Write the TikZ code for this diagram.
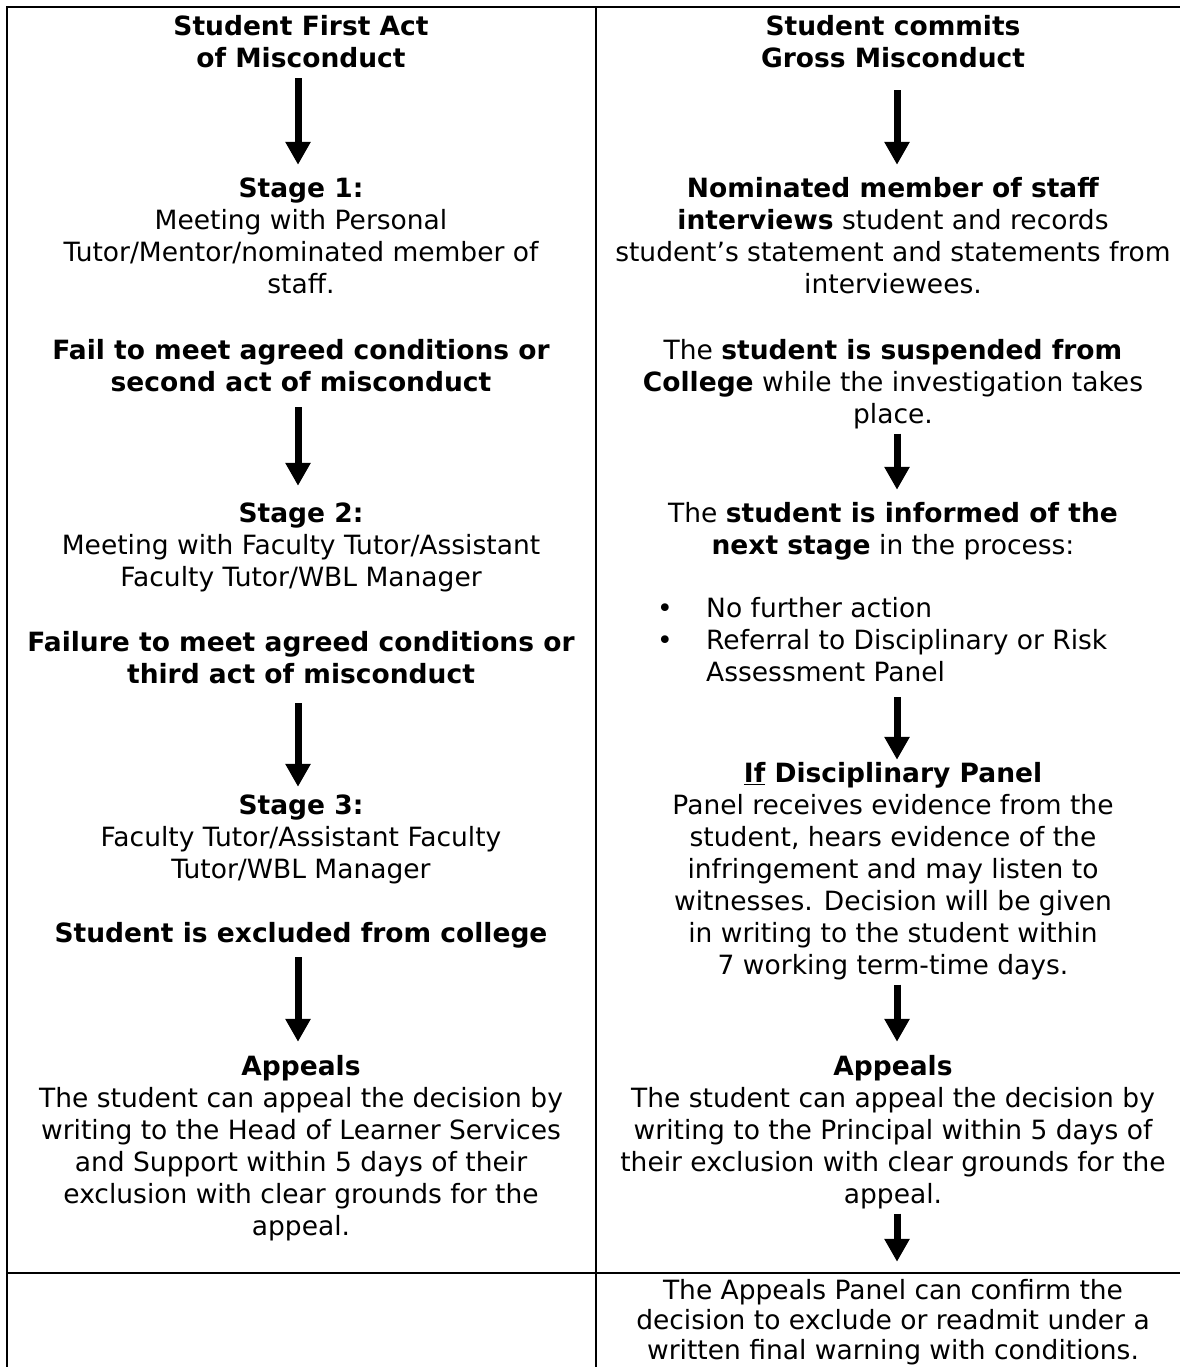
\documentclass[tikz,border=0pt]{standalone}
\usepackage{fontspec}
\setmainfont{DejaVu Sans}
\usetikzlibrary{arrows.meta}
\tikzset{
  txt/.style={font=\fontsize{26.5}{32}\selectfont, align=center, inner sep=0pt},
  bigarrow/.style={line width=7pt, -{Triangle[length=23pt,width=24pt]}},
  tablerule/.style={line width=2.2pt, line cap=rect}
}
\begin{document}
\begin{tikzpicture}[x=1pt,y=-1pt]
\useasboundingbox (0,0) rectangle (1179,1367);
% table frame
\draw[tablerule, line join=miter] (7,1380) -- (7,7) -- (1190,7);
\draw[tablerule] (596,7) -- (596,1380);
\draw[tablerule] (7,1273) -- (1190,1273);
\coordinate (ax) at (298,0);
\coordinate (bx) at (897,0);
% left column
\node[txt] (L0) at (301,45.3) {\strut\textbf{Student First Act}\\\textbf{of Misconduct}\strut};
\node[txt] (L1) at (301,239.3) {\strut\textbf{Stage 1:}\\Meeting with Personal\\Tutor/Mentor/nominated member of\\staff.\strut};
\node[txt] (L2) at (301,369.3) {\strut\textbf{Fail to meet agreed conditions or}\\\textbf{second act of misconduct}\strut};
\node[txt] (L3) at (301,548.3) {\strut\textbf{Stage 2:}\\Meeting with Faculty Tutor/Assistant\\Faculty Tutor/WBL Manager\strut};
\node[txt] (L4) at (301,661.3) {\strut\textbf{Failure to meet agreed conditions or}\\\textbf{third act of misconduct}\strut};
\node[txt] (L5) at (301,840.3) {\strut\textbf{Stage 3:}\\Faculty Tutor/Assistant Faculty\\Tutor/WBL Manager\strut};
\node[txt] (L6) at (301,936.3) {\strut\textbf{Student is excluded from college}\strut};
\node[txt] (L7) at (301,1149.3) {\strut\textbf{Appeals}\\The student can appeal the decision by\\writing to the Head of Learner Services\\and Support within 5 days of their\\exclusion with clear grounds for the\\appeal.\strut};
% right column
\node[txt] (R0) at (893,45.3) {\strut\textbf{Student commits}\\\textbf{Gross Misconduct}\strut};
\node[txt] (R1) at (893,239.3) {\strut\textbf{Nominated member of staff}\\\textbf{interviews} student and records\\student’s statement and statements from\\interviewees.\strut};
\node[txt] (R2) at (893,385.3) {\strut The \textbf{student is suspended from}\\\textbf{College} while the investigation takes\\place.\strut};
\node[txt] (R3) at (893,532.3) {\strut The \textbf{student is informed of the}\\\textbf{next stage} in the process:\strut};
\node[txt, anchor=west, align=left] (R4) at (657,643.3) {\strut\makebox[49pt][l]{•}No further action\\\makebox[49pt][l]{•}Referral to Disciplinary or Risk\\\hspace*{49pt}Assessment Panel\strut};
\node[txt] (R5) at (893,872.3) {\strut\textbf{\underline{If} Disciplinary Panel}\\Panel receives evidence from the\\student, hears evidence of the\\infringement and may listen to\\witnesses. Decision will be given\\in writing to the student within\\7 working term-time days.\strut};
\node[txt] (R6) at (893,1133.3) {\strut\textbf{Appeals}\\The student can appeal the decision by\\writing to the Principal within 5 days of\\their exclusion with clear grounds for the\\appeal.\strut};
\node[txt, font=\fontsize{26.5}{30}\selectfont] (R7) at (893,1323.7) {\strut The Appeals Panel can confirm the\\decision to exclude or readmit under a\\written final warning with conditions.\strut};
% arrows left
\draw[bigarrow, shorten <=0.7pt, shorten >=10.3pt] (L0.south -| ax) -- (L1.north -| ax);
\draw[bigarrow, shorten <=5.7pt, shorten >=14.3pt] (L2.south -| ax) -- (L3.north -| ax);
\draw[bigarrow, shorten <=9.7pt, shorten >=5.3pt] (L4.south -| ax) -- (L5.north -| ax);
\draw[bigarrow, shorten <=4.7pt, shorten >=11.3pt] (L6.south -| ax) -- (L7.north -| ax);
% arrows right
\draw[bigarrow, shorten <=12.7pt, shorten >=10.3pt] (R0.south -| bx) -- (R1.north -| bx);
\draw[bigarrow, shorten <=0pt, shorten >=10.3pt] (R2.south -| bx) -- (R3.north -| bx);
\draw[bigarrow, shorten <=5.7pt, shorten >=0.3pt] (R4.south -| bx) -- (R5.north -| bx);
\draw[bigarrow, shorten <=0pt, shorten >=11.3pt] (R5.south -| bx) -- (R6.north -| bx);
\draw[bigarrow, shorten <=0pt, shorten >=16.7pt] (R6.south -| bx) -- (R7.north -| bx);
\end{tikzpicture}
\end{document}
